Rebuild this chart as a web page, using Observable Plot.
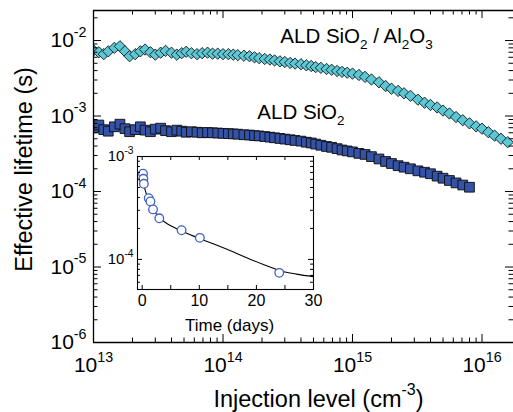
<!DOCTYPE html>
<html><head><meta charset="utf-8">
<script src="https://cdn.jsdelivr.net/npm/d3@7"></script>
<script src="https://cdn.jsdelivr.net/npm/@observablehq/plot@0.6"></script>
<style>
html,body{margin:0;padding:0;background:#fff;overflow:hidden;}
#wrap{position:relative;width:513px;height:412px;}
#wrap svg{position:absolute;}
</style></head><body><div id="wrap"></div>
<script>
// ---------- data ----------
const injection = [
  1.0e13,1.1e13,1.2e13,1.3e13,1.45e13,1.6e13,1.75e13,1.9e13,2.1e13,2.3e13,2.5e13,2.75e13,3.0e13,3.3e13,3.6e13,4.0e13,4.4e13,4.8e13,5.2e13,5.7e13,6.3e13,6.9e13,7.6e13,8.3e13,9.1e13,
  1.0e14,1.1e14,1.2e14,1.3e14,1.45e14,1.6e14,1.75e14,1.9e14,2.1e14,2.3e14,2.5e14,2.75e14,3.0e14,3.3e14,3.6e14,4.0e14,4.4e14,4.8e14,5.2e14,5.7e14,6.3e14,6.9e14,7.6e14,8.3e14,9.1e14,
  1.0e15,1.12e15,1.25e15,1.4e15,1.6e15,1.8e15,2.0e15,2.25e15,2.5e15,2.8e15,3.2e15,3.6e15,4.0e15,4.5e15,5.0e15,5.6e15,6.3e15,7.1e15,8.0e15,9.0e15,
  1.0e16,1.12e16,1.25e16,1.4e16,1.58e16];
const tauSiO2Al2O3 = [
  7.4e-3,7.0e-3,6.6e-3,7.2e-3,8.0e-3,8.4e-3,7.2e-3,6.2e-3,6.6e-3,7.2e-3,7.6e-3,7.0e-3,6.5e-3,6.9e-3,7.3e-3,6.9e-3,6.5e-3,6.8e-3,7.1e-3,6.8e-3,6.6e-3,6.8e-3,6.9e-3,6.7e-3,6.7e-3,
  6.6e-3,6.6e-3,6.5e-3,6.4e-3,6.3e-3,6.2e-3,6.0e-3,5.85e-3,5.7e-3,5.6e-3,5.45e-3,5.3e-3,5.2e-3,5.05e-3,4.95e-3,4.85e-3,4.7e-3,4.6e-3,4.45e-3,4.35e-3,4.2e-3,4.1e-3,3.95e-3,3.85e-3,3.75e-3,
  3.65e-3,3.5e-3,3.3e-3,3.05e-3,2.8e-3,2.5e-3,2.3e-3,2.15e-3,2.0e-3,1.85e-3,1.65e-3,1.5e-3,1.4e-3,1.3e-3,1.18e-3,1.08e-3,9.7e-4,8.8e-4,8.0e-4,7.3e-4,
  6.8e-4,6.1e-4,5.5e-4,5.0e-4,4.5e-4];
const tauSiO2 = [
  7.0e-4,7.6e-4,6.6e-4,6.3e-4,7.2e-4,7.8e-4,6.8e-4,6.2e-4,6.6e-4,7.2e-4,6.5e-4,6.2e-4,6.7e-4,6.9e-4,6.4e-4,6.2e-4,6.5e-4,6.3e-4,6.1e-4,6.2e-4,6.1e-4,6.0e-4,6.05e-4,6.0e-4,5.95e-4,
  5.9e-4,5.85e-4,5.8e-4,5.75e-4,5.65e-4,5.6e-4,5.5e-4,5.45e-4,5.35e-4,5.25e-4,5.15e-4,5.05e-4,4.95e-4,4.85e-4,4.75e-4,4.65e-4,4.5e-4,4.4e-4,4.25e-4,4.1e-4,3.95e-4,3.85e-4,3.7e-4,3.55e-4,3.45e-4,
  3.35e-4,3.2e-4,3.1e-4,2.9e-4,2.7e-4,2.5e-4,2.35e-4,2.2e-4,2.1e-4,2.0e-4,1.88e-4,1.8e-4,1.72e-4,1.6e-4,1.5e-4,1.4e-4,1.3e-4,1.22e-4,1.14e-4];

const days = [0.15, 0.2, 0.3, 1.15, 1.45, 1.9, 3.0, 6.9, 10.1, 24.0];
const tauDays = [6.8e-4, 6.07e-4, 5.43e-4, 3.94e-4, 3.66e-4, 3.06e-4, 2.51e-4, 1.92e-4, 1.62e-4, 7.4e-5];
const fitDays = [0.3, 0.6, 1.0, 1.5, 2.0, 3.0, 4.0, 5.0, 7.0, 10.0, 13.0, 16.0, 19.0, 22.0, 24.0, 27.0, 30.0];
const fitTau = [5.3e-4, 4.55e-4, 3.95e-4, 3.45e-4, 3.02e-4, 2.55e-4, 2.3e-4, 2.12e-4, 1.88e-4, 1.6e-4, 1.38e-4, 1.18e-4, 1.0e-4, 8.6e-5, 7.8e-5, 7.2e-5, 6.8e-5];

const mainXTicks = [1e13, 1e14, 1e15, 1e16];
const mainYTicks = [1e-6, 1e-5, 1e-4, 1e-3, 1e-2];
const insetXTicks = [0, 10, 20, 30];
const insetXMinor = [0, 5, 10, 15, 20, 25, 30];
const insetYTicks = [1e-4, 1e-3];
const labelStack = "ALD SiO_{2} / Al_{2}O_{3}";
const labelSiO2 = "ALD SiO_{2}";
const xTitle = "Injection level (cm^{-3})";
const yTitle = "Effective lifetime (s)";
const insetXTitle = "Time (days)";

// ---------- helpers ----------
const FONT = "'Liberation Sans', Arial, Helvetica, sans-serif";
const minors = (majors, lo, hi) => majors.flatMap(d => [2,3,4,5,6,7,8,9].map(k => d * k)).filter(v => v > lo && v < hi);
const expFmt = d => `10^{${Math.round(Math.log10(d))}}`;

const cyanData = injection.map((x, i) => ({x, y: tauSiO2Al2O3[i]}));
const blueData = tauSiO2.map((y, i) => ({x: injection[i], y}));
const insetData = days.map((d, i) => ({x: d, y: tauDays[i]}));
const fitData = fitDays.map((d, i) => ({x: d, y: fitTau[i]}));

function rich(svg) {
  d3.select(svg).selectAll("text").each(function() {
    const el = this;
    const s = el.textContent;
    if (!/[\^_]\{/.test(s)) return;
    const fs = parseFloat(getComputedStyle(el).fontSize);
    const isTitle = !!el.closest('[aria-label="title"]');
    const supShift = isTitle ? 0.62 : 0.5, supSize = isTitle ? 0.7 : 0.68;
    const parts = []; let last = 0, m; const re = /([\^_])\{([^}]*)\}/g;
    while ((m = re.exec(s))) {
      if (m.index > last) parts.push(["", s.slice(last, m.index)]);
      parts.push([m[1], m[2]]); last = re.lastIndex;
    }
    if (last < s.length) parts.push(["", s.slice(last)]);
    el.textContent = "";
    let shift = 0;
    for (const [k, t] of parts) {
      const ts = document.createElementNS("http://www.w3.org/2000/svg", "tspan");
      const target = k === "^" ? -supShift * fs : k === "_" ? 0.3 * fs : 0;
      const dy = target - shift; shift = target;
      if (dy) ts.setAttribute("dy", dy.toFixed(2));
      if (k) ts.setAttribute("font-size", ((k === "^" ? supSize : 0.66) * fs).toFixed(2));
      ts.textContent = t;
      el.appendChild(ts);
    }
  });
}

// ---------- main chart ----------
const W = 513, H = 412, ML = 93, MR = 0, MT = 10, MB = 70;
const PW = W - ML - MR, PH = H - MT - MB;
const xDom = [1e13, 1.75e16], yDom = [1e-6, 2.5e-2];
const xMin = minors(mainXTicks, xDom[0], xDom[1]);
const yMin = minors(mainYTicks, yDom[0], yDom[1]);
const AX = {stroke: "#000", strokeWidth: 1.3};
const TK = {stroke: "#000", strokeWidth: 1};

const main = Plot.plot({
  width: W, height: H, marginLeft: ML, marginRight: MR, marginTop: MT, marginBottom: MB,
  style: {fontFamily: FONT, background: "#fff", color: "#000"},
  x: {type: "log", domain: xDom},
  y: {type: "log", domain: yDom},
  marks: [
    Plot.dot(cyanData, {x: "x", y: "y", symbol: "diamond2", r: 5.1, fill: "#5cc8d6", stroke: "#151515", strokeWidth: 0.9, clip: true}),
    Plot.dot(blueData, {x: "x", y: "y", symbol: "square", r: 5.5, fill: "#3452a6", stroke: "#0d0d0d", strokeWidth: 0.9, clip: true}),
    // inward ticks
    Plot.tickY(mainYTicks, {y: d => d, insetRight: PW - 8, ...TK}),
    Plot.tickY(yMin, {y: d => d, insetRight: PW - 4.5, ...TK}),
    Plot.tickY(mainYTicks, {y: d => d, insetLeft: PW - 8, ...TK}),
    Plot.tickY(yMin, {y: d => d, insetLeft: PW - 4.5, ...TK}),
    Plot.tickX(mainXTicks, {x: d => d, insetTop: PH - 8, ...TK}),
    Plot.tickX(xMin, {x: d => d, insetTop: PH - 4.5, ...TK}),
    Plot.tickX(mainXTicks, {x: d => d, insetBottom: PH - 8, ...TK}),
    Plot.tickX(xMin, {x: d => d, insetBottom: PH - 4.5, ...TK}),
    // axis lines
    Plot.ruleX([xDom[0]], AX),
    Plot.ruleY([yDom[0]], AX),
    Plot.ruleY([yDom[1]], AX),
    // tick labels
    Plot.axisY({ticks: mainYTicks, tickSize: 0, tickPadding: 7, tickFormat: expFmt, fontSize: 21, label: null}),
    Plot.axisX({ticks: mainXTicks, tickSize: 0, tickPadding: 15, tickFormat: expFmt, fontSize: 21, label: null}),
    // titles
    Plot.text([xTitle], {text: d => d, frameAnchor: "bottom", textAnchor: "middle", dx: 15, dy: 64, lineAnchor: "bottom", fontSize: 23.5, ariaLabel: "title"}),
    Plot.text([yTitle], {text: d => d, frameAnchor: "left", textAnchor: "middle", rotate: -90, dx: -69.5, dy: -7, fontSize: 23.5, ariaLabel: "title"}),
    // series labels
    Plot.text([labelStack], {x: () => 2.77e14, y: () => 9.4e-3, text: d => d, textAnchor: "start", lineAnchor: "bottom", fontSize: 20.5}),
    Plot.text([labelSiO2], {x: () => 1.84e14, y: () => 9.27e-4, text: d => d, textAnchor: "start", lineAnchor: "bottom", fontSize: 20.5})
  ]
});
main.style.left = "0px"; main.style.top = "0px";
document.getElementById("wrap").appendChild(main);
rich(main);

// ---------- inset ----------
const IW = 230, IH = 200, IML = 42, IMR = 12, IMT = 16, IMB = 51;
const IPW = IW - IML - IMR, IPH = IH - IMT - IMB;
const ixDom = [-0.82, 30], iyDom = [5.1e-5, 1e-3];
const iyMin = minors([1e-5, 1e-4], iyDom[0], iyDom[1]);
const inset = Plot.plot({
  width: IW, height: IH, marginLeft: IML, marginRight: IMR, marginTop: IMT, marginBottom: IMB,
  style: {fontFamily: FONT, background: "transparent", color: "#000"},
  x: {domain: ixDom},
  y: {type: "log", domain: iyDom},
  marks: [
    Plot.frame({fill: "#fff", stroke: null}),
    Plot.line(fitData, {x: "x", y: "y", curve: "monotone-x", stroke: "#000", strokeWidth: 1.1}),
    Plot.dot(insetData, {x: "x", y: "y", r: 4.3, fill: "#fff", stroke: "#3f62c4", strokeWidth: 1.3}),
    Plot.tickX(insetXMinor, {x: d => d, insetTop: IPH - 4, ...TK}),
    Plot.tickX(insetXMinor, {x: d => d, insetBottom: IPH - 4, ...TK}),
    Plot.tickY(insetYTicks, {y: d => d, insetRight: IPW - 5, ...TK}),
    Plot.tickY(iyMin, {y: d => d, insetRight: IPW - 3, ...TK}),
    Plot.tickY(insetYTicks, {y: d => d, insetLeft: IPW - 5, ...TK}),
    Plot.tickY(iyMin, {y: d => d, insetLeft: IPW - 3, ...TK}),
    Plot.frame({stroke: "#000", strokeWidth: 1.1}),
    Plot.axisX({ticks: insetXTicks, tickSize: 0, tickPadding: 5, fontSize: 16, label: null}),
    Plot.axisY({ticks: insetYTicks, tickSize: 0, tickPadding: 4, tickFormat: expFmt, fontSize: 15, label: null}),
    Plot.text([insetXTitle], {text: d => d, frameAnchor: "bottom", textAnchor: "middle", dx: 4, dy: 41, lineAnchor: "bottom", fontSize: 17})
  ]
});
inset.style.left = "95px"; inset.style.top = "140px";
document.getElementById("wrap").appendChild(inset);
rich(inset);
</script></body></html>
